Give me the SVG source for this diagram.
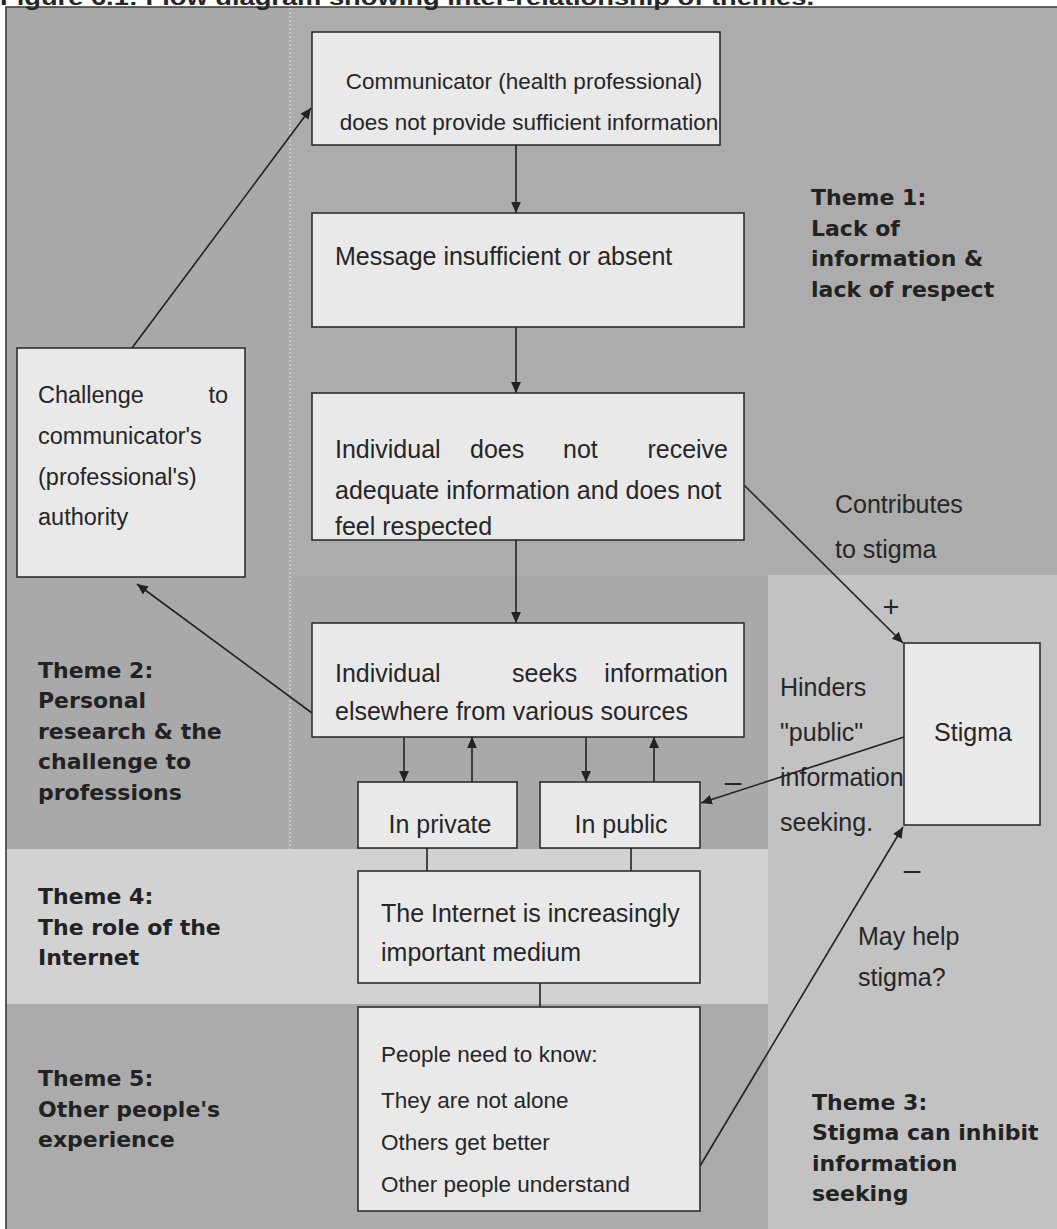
<svg xmlns="http://www.w3.org/2000/svg" width="1057" height="1229" viewBox="0 0 1057 1229">
<style>
.box{fill:#e9e9e9;stroke:#2e2e2e;stroke-width:1.6}
.t{font-family:"Liberation Sans",Arial,sans-serif;font-size:25px;fill:#262626}
.s{font-size:22.5px}
.th{font-family:"DejaVu Sans",Verdana,sans-serif;font-weight:bold;font-size:22px;fill:#222}
.ln{stroke:#222;stroke-width:1.6;fill:none}
.arr{stroke:#222;stroke-width:1.6;fill:none;marker-end:url(#ah)}
</style>
<defs>
<marker id="ah" viewBox="0 0 10 10" refX="10" refY="5" markerWidth="11" markerHeight="11" markerUnits="userSpaceOnUse" orient="auto">
<path d="M0,0.5 L10,5 L0,9.5 z" fill="#222"/>
</marker>
</defs>
<rect x="0" y="0" width="1057" height="1229" fill="#ffffff"/>
<g id="background">
<rect x="6" y="7" width="1051" height="1222" fill="#a9a9a9"/>
<rect x="290" y="7" width="767" height="568" fill="#acacac"/>
<rect x="768" y="575" width="289" height="654" fill="#c2c2c2"/>
<rect x="6" y="849" width="762" height="155" fill="#d2d2d2"/>
<rect x="6" y="1004" width="762" height="225" fill="#ababab"/>
<line x1="290" y1="8" x2="290" y2="849" stroke="#c8c8c8" stroke-width="2" stroke-dasharray="2,2"/>
<path d="M6,1229 V7 H1057" fill="none" stroke="#3a3a3a" stroke-width="1.6"/>
</g>
<text x="0" y="5" class="t" style="font-weight:bold;font-size:22px" textLength="814" lengthAdjust="spacingAndGlyphs">Figure 6.1: Flow diagram showing inter-relationship of themes.</text>
<g id="labels">
<text class="th"><tspan x="811" y="205">Theme 1:</tspan><tspan x="811" y="236">Lack of</tspan><tspan x="811" y="266">information &amp;</tspan><tspan x="811" y="297">lack of respect</tspan></text>
<text class="th"><tspan x="38" y="678">Theme 2:</tspan><tspan x="38" y="708">Personal</tspan><tspan x="38" y="739">research &amp; the</tspan><tspan x="38" y="769">challenge to</tspan><tspan x="38" y="800">professions</tspan></text>
<text class="th"><tspan x="38" y="904">Theme 4:</tspan><tspan x="38" y="935">The role of the</tspan><tspan x="38" y="965">Internet</tspan></text>
<text class="th"><tspan x="38" y="1086">Theme 5:</tspan><tspan x="38" y="1117">Other people's</tspan><tspan x="38" y="1147">experience</tspan></text>
<text class="th"><tspan x="812" y="1110">Theme 3:</tspan><tspan x="812" y="1140">Stigma can inhibit</tspan><tspan x="812" y="1171">information</tspan><tspan x="812" y="1201">seeking</tspan></text>
<text class="t"><tspan x="835" y="513">Contributes</tspan><tspan x="835" y="558">to stigma</tspan></text>
<text class="t"><tspan x="780" y="696">Hinders</tspan><tspan x="780" y="741">"public"</tspan><tspan x="780" y="786">information</tspan><tspan x="780" y="831">seeking.</tspan></text>
<text class="t"><tspan x="858" y="945">May help</tspan><tspan x="858" y="986">stigma?</tspan></text>
<text x="891" y="617" class="t" style="font-size:29px" text-anchor="middle">+</text>
<text x="733" y="792" class="t" style="font-size:30px" text-anchor="middle">–</text>
<text x="912" y="880" class="t" style="font-size:30px" text-anchor="middle">–</text>
</g>
<g id="connectors">
<line class="arr" x1="516" y1="145" x2="516" y2="213"/>
<line class="arr" x1="516" y1="327" x2="516" y2="393"/>
<line class="arr" x1="516" y1="540" x2="516" y2="623"/>
<line class="arr" x1="132" y1="348" x2="311" y2="108"/>
<line class="arr" x1="312" y1="713" x2="137" y2="584"/>
<line class="arr" x1="744" y1="485" x2="903" y2="643"/>
<line class="arr" x1="904" y1="737" x2="701" y2="803"/>
<line class="arr" x1="700" y1="1166" x2="903" y2="827"/>
<line class="arr" x1="404" y1="737" x2="404" y2="782"/>
<line class="arr" x1="472" y1="782" x2="472" y2="737"/>
<line class="arr" x1="586" y1="737" x2="586" y2="782"/>
<line class="arr" x1="654" y1="782" x2="654" y2="737"/>
<line class="ln" x1="427" y1="848" x2="427" y2="871"/>
<line class="ln" x1="631" y1="848" x2="631" y2="871"/>
<line class="ln" x1="540" y1="983" x2="540" y2="1007"/>
</g>
<g id="n-communicator">
<rect class="box" x="312" y="32" width="408" height="113"/>
<text class="t s" text-anchor="middle"><tspan x="524" y="89">Communicator (health professional)</tspan><tspan x="529" y="130">does not provide sufficient information</tspan></text>
</g>
<g id="n-message">
<rect class="box" x="312" y="213" width="432" height="114"/>
<text class="t" x="335" y="265">Message insufficient or absent</text>
</g>
<g id="n-individual">
<rect class="box" x="312" y="393" width="432" height="147"/>
<text class="t"><tspan x="335" y="458">Individual</tspan><tspan x="470" y="458">does</tspan><tspan x="563" y="458">not</tspan><tspan x="728" y="458" text-anchor="end">receive</tspan></text>
<text class="t"><tspan x="335" y="499">adequate information and does not</tspan><tspan x="335" y="535">feel respected</tspan></text>
</g>
<g id="n-seeks">
<rect class="box" x="312" y="623" width="432" height="114"/>
<text class="t"><tspan x="335" y="682">Individual</tspan><tspan x="512" y="682">seeks</tspan><tspan x="728" y="682" text-anchor="end">information</tspan></text>
<text class="t" x="335" y="720">elsewhere from various sources</text>
</g>
<g id="n-private">
<rect class="box" x="358" y="782" width="159" height="66"/>
<text class="t" x="440" y="833" text-anchor="middle">In private</text>
</g>
<g id="n-public">
<rect class="box" x="540" y="782" width="160" height="66"/>
<text class="t" x="621" y="833" text-anchor="middle">In public</text>
</g>
<g id="n-internet">
<rect class="box" x="358" y="871" width="342" height="112"/>
<text class="t"><tspan x="381" y="922">The Internet is increasingly</tspan><tspan x="381" y="961">important medium</tspan></text>
</g>
<g id="n-people">
<rect class="box" x="358" y="1007" width="342" height="204"/>
<text class="t s"><tspan x="381" y="1062">People need to know:</tspan><tspan x="381" y="1108">They are not alone</tspan><tspan x="381" y="1150">Others get better</tspan><tspan x="381" y="1192">Other people understand</tspan></text>
</g>
<g id="n-challenge">
<rect class="box" x="17" y="348" width="228" height="229"/>
<text class="t" style="font-size:23.5px"><tspan x="38" y="403">Challenge</tspan><tspan x="228" y="403" text-anchor="end">to</tspan><tspan x="38" y="444">communicator's</tspan><tspan x="38" y="485">(professional's)</tspan><tspan x="38" y="525">authority</tspan></text>
</g>
<g id="n-stigma">
<rect class="box" x="904" y="643" width="136" height="182"/>
<text class="t" x="973" y="741" text-anchor="middle">Stigma</text>
</g>
</svg>
